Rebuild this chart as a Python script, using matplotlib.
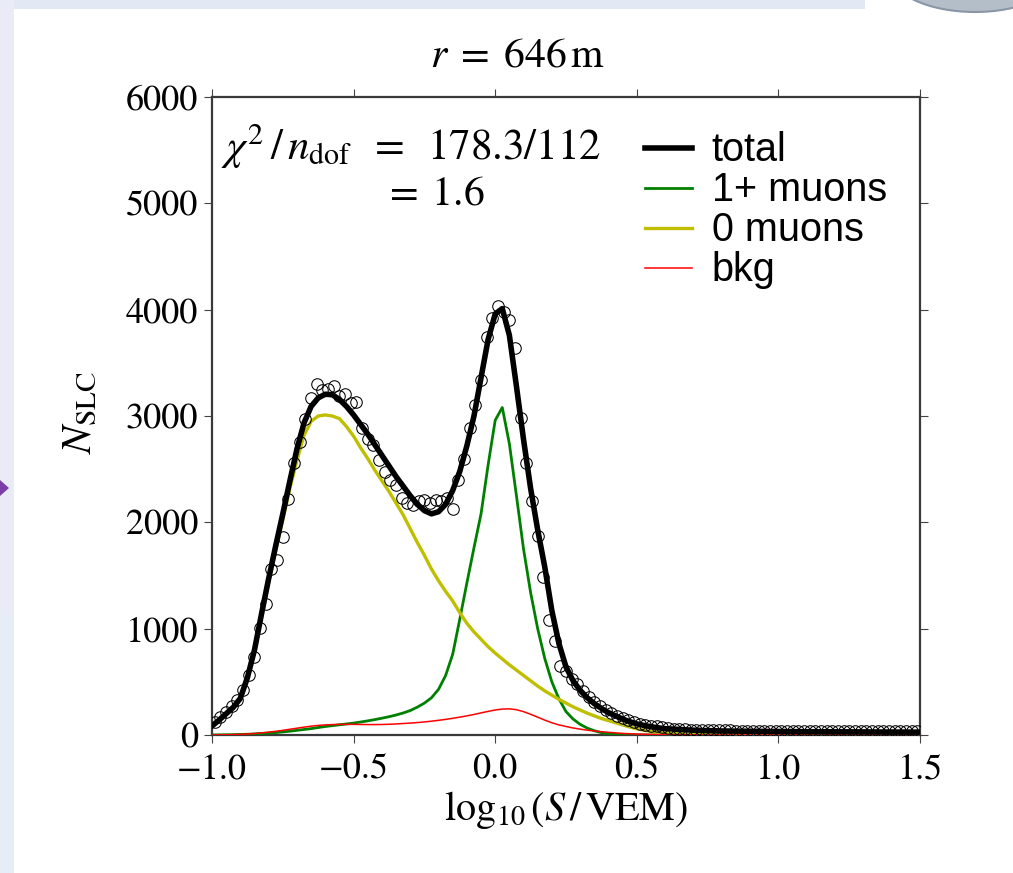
import numpy as np
import matplotlib
matplotlib.use("Agg")
import matplotlib.pyplot as plt
from matplotlib.patches import Rectangle, Polygon, Ellipse

# ---------------- data ----------------
# measured histogram (bin centres every 0.02 in log10(S/VEM))
data_x = np.round(np.arange(-0.99, 1.5, 0.02), 2)
data_n = [125, 165, 215, 270, 330, 420, 560, 730, 1010, 1230,
          1560, 1650, 1860, 2220, 2560, 2760, 2970, 3170, 3300, 3240,
          3250, 3280, 3190, 3210, 3120, 3130, 2890, 2780, 2730, 2590,
          2470, 2400, 2350, 2230, 2180, 2160, 2200, 2210, 2180, 2210,
          2200, 2230, 2130, 2400, 2600, 2890, 3100, 3340, 3740, 3920,
          4030, 3980, 3900, 3640, 2980, 2560, 2200, 1870, 1490, 1080,
          880, 650, 600, 530, 480, 410, 360, 310, 270, 235,
          205, 180, 160, 140, 122, 108, 96, 88, 80, 72,
          66, 61, 57, 54, 51, 49, 47, 46, 45, 44,
          43, 43, 42, 42, 41, 41, 40, 40, 40, 39,
          39, 39, 38, 38, 38, 37, 37, 37, 37, 36,
          36, 36, 36, 35, 35, 35, 35, 35, 34, 34,
          34, 34, 34, 33, 33]

# model curves sampled on a common grid
curve_x = np.r_[np.round(np.arange(-1.0, 0.6001, 0.025), 3),
                [0.7, 0.8, 0.9, 1.0, 1.1, 1.2, 1.3, 1.4, 1.5]]
total = [85, 140, 200, 260, 345, 540, 800, 1140, 1470, 1780,
         2080, 2390, 2690, 2935, 3090, 3170, 3205, 3200, 3155, 3090,
         3010, 2920, 2830, 2730, 2630, 2530, 2430, 2340, 2250, 2170,
         2110, 2080, 2100, 2170, 2300, 2480, 2720, 3000, 3360, 3720,
         3960, 4010, 3760, 3280, 2780, 2320, 1930, 1580, 1170, 860,
         640, 510, 420, 350, 295, 250, 210, 180, 150, 125,
         105, 90, 78, 68, 60,
         45, 38, 35, 33, 31, 30, 29, 28, 27]
muons_1plus = [0, 1, 2, 3, 5, 7, 10, 14, 18, 23,
               29, 36, 44, 52, 60, 70, 80, 88, 96, 104,
               112, 122, 133, 145, 158, 172, 188, 207, 230, 262,
               300, 350, 430, 560, 760, 1090, 1430, 1760, 2080, 2540,
               2960, 3080, 2740, 2250, 1750, 1340, 1000, 720, 500, 340,
               220, 150, 100, 65, 40, 22, 12, 6, 3, 1,
               0, 0, 0, 0, 0,
               0, 0, 0, 0, 0, 0, 0, 0, 0]
muons_0 = [85, 140, 195, 255, 330, 515, 780, 1115, 1435, 1735,
           2025, 2320, 2580, 2820, 2950, 3000, 3010, 3000, 2975, 2900,
           2810, 2700, 2600, 2490, 2390, 2290, 2180, 2070, 1940, 1810,
           1690, 1560, 1450, 1350, 1260, 1150, 1050, 970, 900, 830,
           770, 715, 660, 610, 560, 510, 460, 415, 375, 335,
           300, 265, 235, 205, 180, 155, 135, 115, 95, 75,
           58, 45, 33, 24, 17,
           5, 1, 0, 0, 0, 0, 0, 0, 0]
bkg = [0, 1, 2, 4, 6, 10, 14, 20, 27, 35,
       44, 54, 64, 74, 83, 90, 95, 98, 100, 100,
       100, 99, 98, 98, 99, 101, 104, 108, 112, 117,
       123, 130, 138, 147, 157, 168, 180, 193, 208, 222,
       235, 244, 246, 238, 220, 195, 168, 140, 115, 95,
       80, 66, 55, 45, 38, 31, 25, 20, 15, 12,
       9, 7, 5, 4, 3,
       1, 0, 0, 0, 0, 0, 0, 0, 0]

legend_labels = ["total", "1+ muons", "0 muons", "bkg"]
x_ticks = [-1.0, -0.5, 0.0, 0.5, 1.0, 1.5]
y_ticks = [0, 1000, 2000, 3000, 4000, 5000, 6000]

# ---------------- style ----------------
plt.rcParams['mathtext.fontset'] = 'stix'
plt.rcParams['font.family'] = ['STIXGeneral', 'DejaVu Serif']

W, H = 1013, 873
fig = plt.figure(figsize=(W / 100, H / 100), dpi=100)
fig.patch.set_facecolor('white')

def fx(px):
    return px / W

def fy(py):
    return 1 - py / H

# slide background decorations (figure pixel coords)
def fbox(x0, y0, x1, y1, color, z=0):
    fig.patches.append(Rectangle((fx(x0), fy(y1)), (x1 - x0) / W, (y1 - y0) / H,
                                 transform=fig.transFigure, facecolor=color,
                                 edgecolor='none', zorder=z))

fbox(0, 0, 865, 9, '#e3e9f4')
fbox(0, 0, 14, 615, '#e9ecf6')
fbox(0, 615, 14, 873, '#e7edf6')
fig.patches.append(Polygon([(fx(0), fy(480)), (fx(9), fy(488)), (fx(0), fy(496))],
                           closed=True, transform=fig.transFigure,
                           facecolor='#7b3fa8', edgecolor='none'))
fig.patches.append(Ellipse((fx(975), fy(-28)), 170 / W, 80 / H,
                           transform=fig.transFigure, facecolor='#b4bec9',
                           edgecolor='#8a96a6', linewidth=1.5))

ax = fig.add_axes([fx(212), fy(735), 708 / W, 638 / H])
ax.set_xlim(-1.0, 1.5)
ax.set_ylim(0, 6000)

ax.plot(curve_x, total, color='k', lw=4.0, label=legend_labels[0], zorder=4)
ax.plot(curve_x, muons_1plus, color=(0, 0.5, 0), lw=2.0, label=legend_labels[1], zorder=3)
ax.plot(curve_x, muons_0, color=(0.75, 0.75, 0), lw=2.4, label=legend_labels[2], zorder=3)
ax.plot(curve_x, bkg, color=(1, 0, 0), lw=1.1, label=legend_labels[3], zorder=3)
ax.plot(data_x, data_n, linestyle='none', marker='o', markersize=8.3,
        markerfacecolor='none', markeredgecolor='k', markeredgewidth=0.75, zorder=5)

ax.set_xticks(x_ticks)
ax.set_yticks(y_ticks)
ax.set_xticklabels([('%.1f' % v).replace('-', '\u2212') for v in x_ticks])
ax.set_yticklabels([str(v) for v in y_ticks])
ax.tick_params(direction='out', length=6, width=0.8, color='#444444',
               top=True, right=True, labelsize=26)
ax.tick_params(axis='x', pad=7)
ax.tick_params(axis='y', pad=4)
for s in ax.spines.values():
    s.set_linewidth(1.6)
    s.set_color('#3a3a3a')

fig.text(fx(518), fy(57), r'$r\;=\;646\,\mathrm{m}$', fontsize=30,
         ha='center', va='center')
fig.text(fx(566), fy(810), r'$\log_{10}(S\,/\,\mathrm{VEM})$', fontsize=29,
         ha='center', va='center')
fig.text(fx(82), fy(412), r'$N_{\mathrm{SLC}}$', fontsize=30, rotation=90,
         ha='center', va='center')

ax.text(0.013, 0.922, r'$\chi^2\,/\,n_{\mathrm{dof}}\;\;=\;\;178.3/112$', transform=ax.transAxes,
        fontsize=31, ha='left', va='center')
fig.text(fx(434), fy(195), r'$=\;1.6$', fontsize=30, ha='center', va='center')

leg = ax.legend(loc='upper left', bbox_to_anchor=(0.612, 0.946), frameon=False,
                prop={'family': 'Liberation Sans', 'size': 28.5},
                handlelength=1.18, handletextpad=0.5, labelspacing=0.05,
                borderpad=0, borderaxespad=0)

fig.savefig('out.png', dpi=100)
